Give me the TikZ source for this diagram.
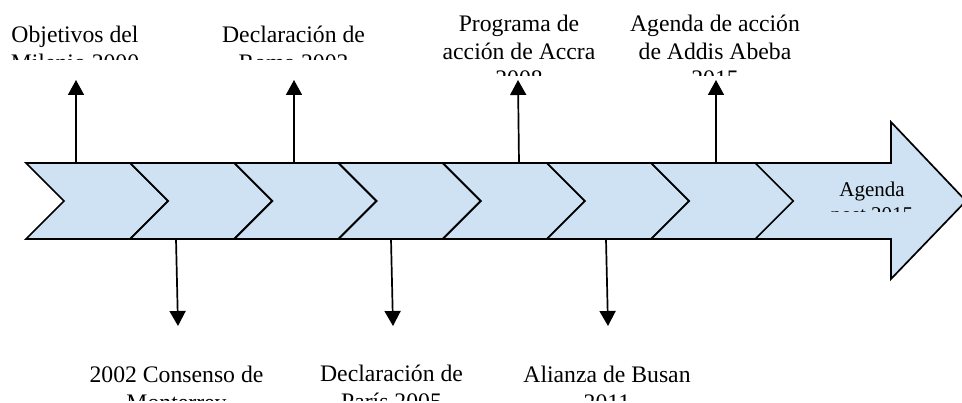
\documentclass[tikz,border=0pt]{standalone}
\usepackage{fontspec}
\setmainfont{Liberation Serif}
\usetikzlibrary{arrows.meta}
\definecolor{chevfill}{RGB}{207,226,243}

\begin{document}
\begin{tikzpicture}[x=1pt,y=-1pt,line width=1.7pt,
  chev/.style={draw=black,fill=chevfill,line join=miter},
  hito/.style={-{Triangle[length=15pt,width=16pt]}},
  label node/.style={align=center,inner sep=0pt,anchor=base,font=\fontsize{23.7}{27.3}\selectfont}]
  \useasboundingbox (0,0) rectangle (962,403);

  % big arrow, then the chevrons on top of it
  \draw[chev] (753,163) -- (891,163) -- (891,122) -- (966,201) -- (891,279) -- (891,239) -- (753,239) -- cycle;
  \foreach \i in {0,...,6}{
    \pgfmathsetmacro{\s}{26+104.2*\i}
    \draw[chev] (\s,163) -- ++(104,0) -- ++(38,38) -- ++(-38,38) -- ++(-104,0) -- ++(38,-38) -- cycle;
  }

  % labels above (cut off as in the text boxes); base = last line
  \begin{scope}
    \clip (0,0) rectangle (962,60);
    \node[label node] (milenio) at (75,70.3) {Objetivos del\\Milenio 2000};
    \node[label node] (roma) at (293.5,70.3) {Declaración de\\Roma 2003};
  \end{scope}
  \begin{scope}
    \clip (0,0) rectangle (962,76);
    \node[label node] (accra) at (519,86.6) {Programa de\\acción de Accra\\2008};
    \node[label node] (addis) at (715,86.6) {Agenda de acción\\de Addis Abeba\\2015};
  \end{scope}
  % labels below
  \begin{scope}
    \clip (0,300) rectangle (962,401);
    \node[label node] (monterrey) at (176.5,410.3) {2002 Consenso de\\Monterrey};
    \node[label node] (paris) at (391.5,409.3) {Declaración de\\París 2005};
    \node[label node] (busan) at (607,410.3) {Alianza de Busan\\2011};
  \end{scope}
  \begin{scope}
    \clip (753,163) rectangle (962,211.5);
    \node[label node,font=\fontsize{21}{25}\selectfont] (post) at (872,222) {Agenda\\post 2015};
  \end{scope}

  % milestones
  \foreach \n/\xa/\xb in {1/76/76, 2/294/294, 3/519/518, 4/716/716}{
    \coordinate (up\n) at (\xa,163);
    \coordinate (upend\n) at (\xb,80);
    \draw[hito] (up\n) -- (upend\n);
  }
  \foreach \n/\xa/\xb in {1/176/178, 2/391/393, 3/606/608}{
    \coordinate (dn\n) at (\xa,239);
    \coordinate (dnend\n) at (\xb,326);
    \draw[hito] (dn\n) -- (dnend\n);
  }
\end{tikzpicture}
\end{document}
